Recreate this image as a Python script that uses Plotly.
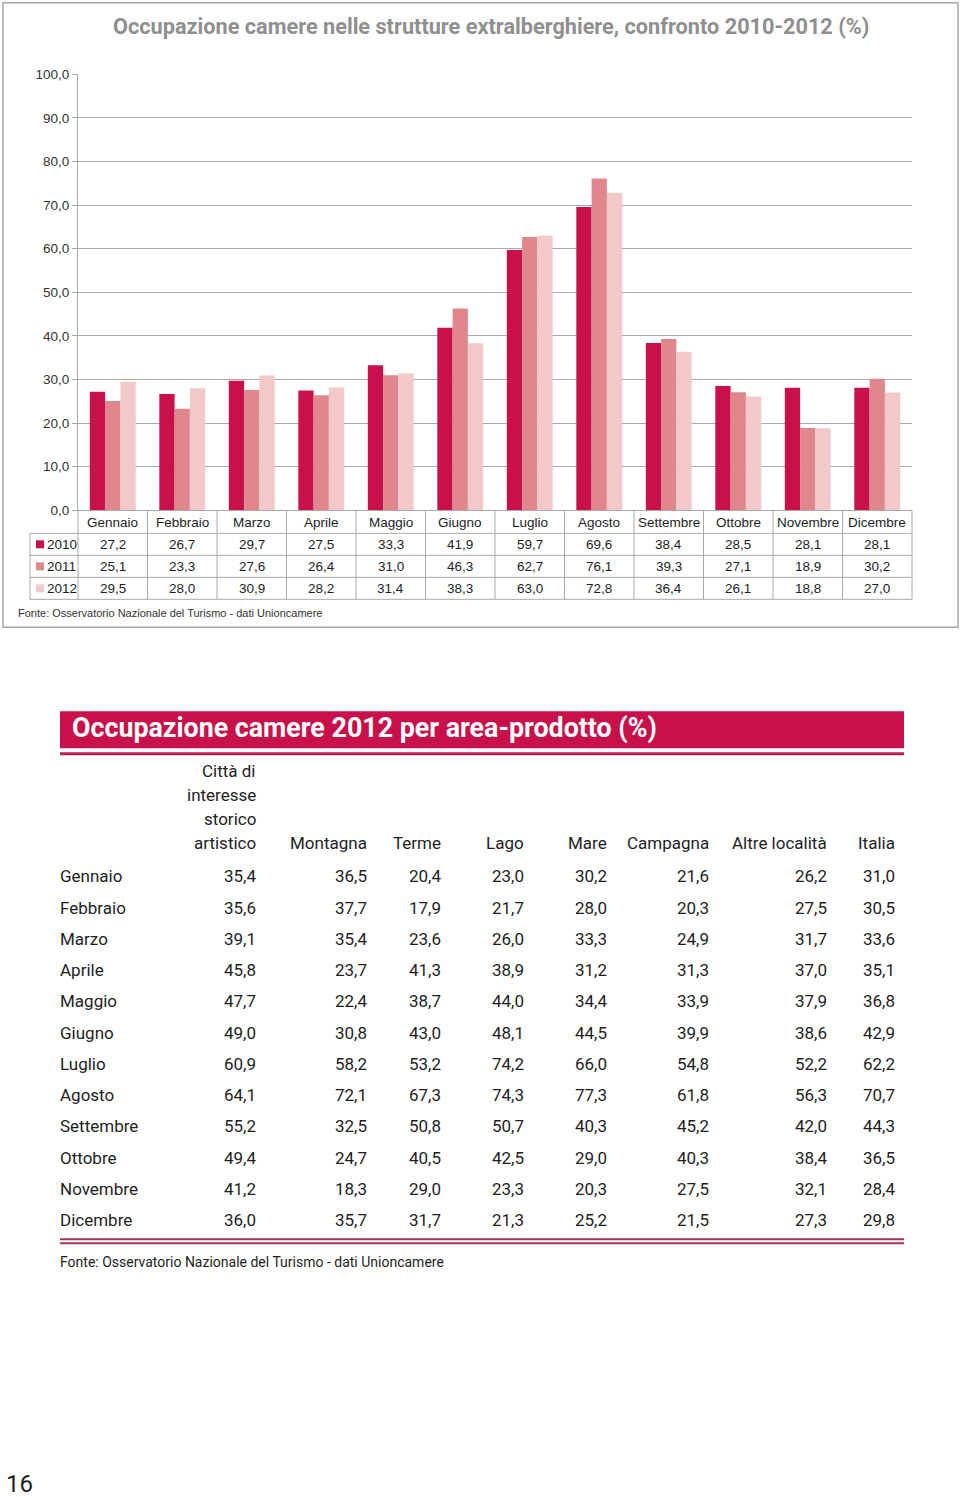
import plotly.graph_objects as go

# ---------------- data ----------------
months = ["Gennaio", "Febbraio", "Marzo", "Aprile", "Maggio", "Giugno",
          "Luglio", "Agosto", "Settembre", "Ottobre", "Novembre", "Dicembre"]
years = ["2010", "2011", "2012"]
occ_2010 = [27.2, 26.7, 29.7, 27.5, 33.3, 41.9, 59.7, 69.6, 38.4, 28.5, 28.1, 28.1]
occ_2011 = [25.1, 23.3, 27.6, 26.4, 31.0, 46.3, 62.7, 76.1, 39.3, 27.1, 18.9, 30.2]
occ_2012 = [29.5, 28.0, 30.9, 28.2, 31.4, 38.3, 63.0, 72.8, 36.4, 26.1, 18.8, 27.0]
y_ticks = [0, 10, 20, 30, 40, 50, 60, 70, 80, 90, 100]

area_headers = ["Città di\ninteresse\nstorico\nartistico", "Montagna", "Terme",
                "Lago", "Mare", "Campagna", "Altre località", "Italia"]
citta = [35.4, 35.6, 39.1, 45.8, 47.7, 49.0, 60.9, 64.1, 55.2, 49.4, 41.2, 36.0]
montagna = [36.5, 37.7, 35.4, 23.7, 22.4, 30.8, 58.2, 72.1, 32.5, 24.7, 18.3, 35.7]
terme = [20.4, 17.9, 23.6, 41.3, 38.7, 43.0, 53.2, 67.3, 50.8, 40.5, 29.0, 31.7]
lago = [23.0, 21.7, 26.0, 38.9, 44.0, 48.1, 74.2, 74.3, 50.7, 42.5, 23.3, 21.3]
mare = [30.2, 28.0, 33.3, 31.2, 34.4, 44.5, 66.0, 77.3, 40.3, 29.0, 20.3, 25.2]
campagna = [21.6, 20.3, 24.9, 31.3, 33.9, 39.9, 54.8, 61.8, 45.2, 40.3, 27.5, 21.5]
altre = [26.2, 27.5, 31.7, 37.0, 37.9, 38.6, 52.2, 56.3, 42.0, 38.4, 32.1, 27.3]
italia = [31.0, 30.5, 33.6, 35.1, 36.8, 42.9, 62.2, 70.7, 44.3, 36.5, 28.4, 29.8]

chart_title = "Occupazione camere nelle strutture extralberghiere, confronto 2010-2012 (%)"
table_title = "Occupazione camere 2012 per area-prodotto (%)"
source = "Fonte: Osservatorio Nazionale del Turismo - dati Unioncamere"
page_no = "16"

# ---------------- style ----------------
W, H = 960, 1497
# observed vertical mapping of the screenshot: shown = 6.66 + 0.99 * layout_px
Y_A, Y_B = 6.66, 0.99
colors = ["#C8104A", "#E0878E", "#F2C8C8"]
GRID = "#A9A9A9"
NARROW = "Roboto, Liberation Sans, sans-serif"
SANS = "Liberation Sans, Arial, sans-serif"
TXT = "#1E1E1E"


def px(x):
    return x / W


def py(y):
    return 1 - ((y - Y_A) / Y_B) / H


fmt = lambda v: f"{v:.1f}".replace(".", ",")

fig = go.Figure()
for yr, vals, col in zip(years, [occ_2010, occ_2011, occ_2012], colors):
    fig.add_trace(go.Bar(name=yr, x=months, y=vals, marker=dict(color=col, line=dict(width=0)),
                         showlegend=False))

shapes = []
annotations = []

# chart outer frame
shapes.append(dict(type="rect", xref="paper", yref="paper", x0=px(3), x1=px(958), y0=py(2.5), y1=py(627),
                   line=dict(color="#A6A6A6", width=1.5), layer="below"))

# chart title
annotations.append(dict(text=f"<b>{chart_title}</b>", xref="paper", yref="paper", x=px(491), y=py(26),
                        xanchor="center", yanchor="middle", showarrow=False,
                        font=dict(family=NARROW, size=21.7, color="#8F8F8F")))

# data table under chart
x_left, x_axis, x_right = 30, 78, 912
col_w = (x_right - x_axis) / len(months)
for yy in [533, 555, 577, 599]:
    shapes.append(dict(type="line", xref="paper", yref="paper", x0=px(x_left), x1=px(x_right),
                       y0=py(yy), y1=py(yy), line=dict(color=GRID, width=1)))
shapes.append(dict(type="line", xref="paper", yref="paper", x0=px(x_left), x1=px(x_left),
                   y0=py(533), y1=py(599), line=dict(color=GRID, width=1)))
for k in range(len(months) + 1):
    xx = x_axis + k * col_w
    shapes.append(dict(type="line", xref="paper", yref="paper", x0=px(xx), x1=px(xx),
                       y0=py(510), y1=py(599), line=dict(color=GRID, width=1)))

for m in months:
    annotations.append(dict(text=m, xref="x", yref="paper", x=m, y=py(522), xanchor="center",
                            yanchor="middle", showarrow=False, font=dict(family=SANS, size=13.5, color=TXT)))
row_y = [544, 566, 588]
for yr, vals, col, ry in zip(years, [occ_2010, occ_2011, occ_2012], colors, row_y):
    shapes.append(dict(type="rect", xref="paper", yref="paper", x0=px(36), x1=px(44),
                       y0=py(ry - 4), y1=py(ry + 4), fillcolor=col, line=dict(width=0)))
    annotations.append(dict(text=yr, xref="paper", yref="paper", x=px(45), y=py(ry), xanchor="left",
                            yanchor="middle", showarrow=False, font=dict(family=SANS, size=13.5, color=TXT)))
    for m, v in zip(months, vals):
        annotations.append(dict(text=fmt(v), xref="x", yref="paper", x=m, y=py(ry), xanchor="center",
                                yanchor="middle", showarrow=False,
                                font=dict(family=SANS, size=13.5, color=TXT)))

annotations.append(dict(text=source, xref="paper", yref="paper", x=px(16), y=py(613), xanchor="left",
                        yanchor="middle", showarrow=False, font=dict(family=SANS, size=11, color="#333333")))

# ---------------- second table (text layout) ----------------
shapes.append(dict(type="rect", xref="paper", yref="paper", x0=px(60), x1=px(904), y0=py(711), y1=py(748),
                   fillcolor="#C8104A", line=dict(width=0)))
shapes.append(dict(type="rect", xref="paper", yref="paper", x0=px(60), x1=px(904), y0=py(752), y1=py(755),
                   fillcolor="#BC1C50", line=dict(width=0)))
annotations.append(dict(text=f"<b>{table_title}</b>", xref="paper", yref="paper", x=px(70), y=py(728),
                        xanchor="left", yanchor="middle", showarrow=False,
                        font=dict(family=NARROW, size=26.8, color="white")))

col_right = [258, 369, 443, 526, 609, 711, 829, 897]
columns = [citta, montagna, terme, lago, mare, campagna, altre, italia]
TFONT = dict(family=NARROW, size=17, color=TXT)
hdr_base, hdr_step = 843, 24
for hdr, xr in zip(area_headers, col_right):
    lines = hdr.split("\n")
    for j, line in enumerate(lines):
        yy = hdr_base - (len(lines) - 1 - j) * hdr_step
        annotations.append(dict(text=line, xref="paper", yref="paper", x=px(xr), y=py(yy), xanchor="right",
                                yanchor="middle", showarrow=False, font=TFONT))

row0, step = 876, (1220 - 876) / 11
for i, m in enumerate(months):
    yy = row0 + i * step
    annotations.append(dict(text=m, xref="paper", yref="paper", x=px(58), y=py(yy), xanchor="left",
                            yanchor="middle", showarrow=False, font=TFONT))
    for col, xr in zip(columns, col_right):
        annotations.append(dict(text=fmt(col[i]), xref="paper", yref="paper", x=px(xr), y=py(yy),
                                xanchor="right", yanchor="middle", showarrow=False, font=TFONT))

for yy in [1239, 1243]:
    shapes.append(dict(type="line", xref="paper", yref="paper", x0=px(60), x1=px(904), y0=py(yy), y1=py(yy),
                       line=dict(color="#A8325F", width=2)))
annotations.append(dict(text=source, xref="paper", yref="paper", x=px(58), y=py(1262), xanchor="left",
                        yanchor="middle", showarrow=False, font=dict(family=NARROW, size=14, color=TXT)))

annotations.append(dict(text=page_no, xref="paper", yref="paper", x=px(4), y=py(1484), xanchor="left",
                        yanchor="middle", showarrow=False, font=dict(family=NARROW, size=24, color=TXT)))

fig.update_layout(
    width=W, height=H, margin=dict(l=0, r=0, t=0, b=0),
    paper_bgcolor="white", plot_bgcolor="white",
    separators=",.",
    barmode="group", bargap=0.34, bargroupgap=0,
    shapes=shapes, annotations=annotations,
    xaxis=dict(domain=[px(x_axis), px(x_right)], showticklabels=False, ticks="", showgrid=False,
               showline=True, linecolor=GRID, linewidth=1, zeroline=False, fixedrange=True),
    yaxis=dict(domain=[py(510), py(74)], range=[0, 100], tickvals=y_ticks, tickformat=".1f",
               showgrid=True, gridcolor=GRID, gridwidth=1.2, zeroline=False,
               showline=True, linecolor=GRID, linewidth=1, ticks="outside", ticklen=5, tickcolor=GRID,
               tickfont=dict(family=SANS, size=13.5, color="#333333"), fixedrange=True),
)

fig.write_html("out.html", config={"displayModeBar": False},
               post_script="document.body.style.margin='0';")
